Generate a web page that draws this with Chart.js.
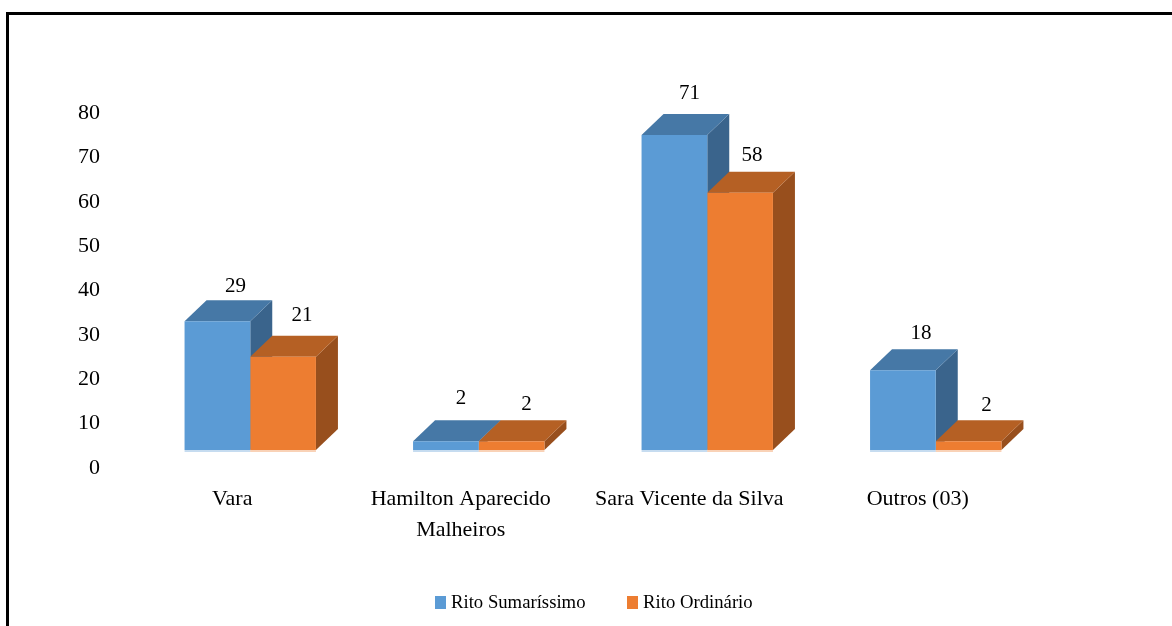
<!DOCTYPE html>
<html>
<head>
<meta charset="utf-8">
<style>
html,body{margin:0;padding:0;background:#fff;overflow:hidden}
#wrap{position:relative;width:1172px;height:626px}
#frame{position:absolute;left:6px;top:12px;right:0;bottom:0;border-left:3px solid #000;border-top:3px solid #000}
canvas{position:absolute;left:0;top:0}
</style>
<script src="https://cdn.jsdelivr.net/npm/chart.js@4/dist/chart.umd.js"></script>
</head>
<body>
<div id="wrap"><div id="frame"></div><canvas id="c" width="1172" height="626"></canvas></div>
<script>
const categories = [["Vara"], ["Hamilton Aparecido", "Malheiros"], ["Sara Vicente da Silva"], ["Outros (03)"]];
const ritoSumarissimo = [29, 2, 71, 18];
const ritoOrdinario = [21, 2, 58, 2];
const yTicks = [0, 10, 20, 30, 40, 50, 60, 70, 80];

const FONT = '"Liberation Serif", "Times New Roman", serif';
const BLUE = '#5B9BD5', ORANGE = '#ED7D31';
const DEPTH_X = 22, DEPTH_Y = 21;
const LEGEND_PAD = 46;
const shades = [
  { top: '#4678A6', side: '#3A648C', floor: 'rgba(91,155,213,0.35)' },
  { top: '#B56024', side: '#984F1D', floor: 'rgba(237,125,49,0.35)' }
];
// fine placement of the value labels relative to each bar [dx, dy]
const labelNudge = [
  [[18, -35], [15, -43], [15, -41], [18, -37]],
  [[19, -41], [15, -37], [12, -37], [18, -36]]
];

function swatch(color) {
  const s = document.createElement('canvas');
  s.width = 11; s.height = 13;
  const g = s.getContext('2d');
  g.fillStyle = color;
  g.fillRect(0, 0, 11, 13);
  return s;
}
const swatches = [swatch(BLUE), swatch(ORANGE)];

const bar3d = {
  id: 'bar3d',
  afterLayout(chart) {
    const lg = chart.legend;
    const h = lg.height;
    lg.left = 20;
    lg.right = 1172;
    lg.top = 603 - LEGEND_PAD - 9.5;
    lg.bottom = lg.top + h;
  },
  beforeDatasetsDraw(chart) {
    const ctx = chart.ctx;
    chart.data.datasets.forEach((ds, i) => {
      chart.getDatasetMeta(i).data.forEach(bar => {
        const l = bar.x - bar.width / 2, r = bar.x + bar.width / 2, t = bar.y, b = bar.base;
        ctx.fillStyle = shades[i].floor;
        ctx.fillRect(l, b, r - l, 2);
        ctx.fillStyle = shades[i].side;
        ctx.beginPath();
        ctx.moveTo(r, t); ctx.lineTo(r + DEPTH_X, t - DEPTH_Y);
        ctx.lineTo(r + DEPTH_X, b - DEPTH_Y); ctx.lineTo(r, b);
        ctx.closePath(); ctx.fill();
        ctx.fillStyle = shades[i].top;
        ctx.beginPath();
        ctx.moveTo(l, t); ctx.lineTo(l + DEPTH_X, t - DEPTH_Y);
        ctx.lineTo(r + DEPTH_X, t - DEPTH_Y); ctx.lineTo(r, t);
        ctx.closePath(); ctx.fill();
      });
    });
  },
  afterDatasetsDraw(chart) {
    const ctx = chart.ctx;
    ctx.save();
    ctx.font = '21px ' + FONT;
    ctx.fillStyle = '#000';
    ctx.textAlign = 'center';
    ctx.textBaseline = 'middle';
    chart.data.datasets.forEach((ds, i) => {
      chart.getDatasetMeta(i).data.forEach((bar, j) => {
        const n = labelNudge[i][j];
        ctx.fillText(String(ds.data[j]), bar.x + n[0], bar.y + n[1]);
      });
    });
    ctx.restore();
  }
};

new Chart(document.getElementById('c'), {
  type: 'bar',
  plugins: [bar3d],
  data: {
    labels: categories,
    datasets: [
      { label: 'Rito Sumaríssimo', data: ritoSumarissimo, backgroundColor: BLUE, categoryPercentage: 0.575, barPercentage: 1 },
      { label: 'Rito Ordinário', data: ritoOrdinario, backgroundColor: ORANGE, categoryPercentage: 0.575, barPercentage: 1 }
    ]
  },
  options: {
    responsive: false,
    animation: false,
    layout: { padding: { left: 0, right: 122, top: 95, bottom: 0 } },
    plugins: {
      title: { display: false },
      tooltip: { enabled: false },
      legend: {
        position: 'bottom',
        labels: {
          usePointStyle: true, pointStyleWidth: 2.3, boxHeight: 13, padding: LEGEND_PAD,
          color: '#000', font: { family: FONT, size: 18.7 },
          generateLabels(chart) {
            return Chart.defaults.plugins.legend.labels.generateLabels(chart)
              .map((it, i) => Object.assign(it, { pointStyle: swatches[i] }));
          }
        }
      }
    },
    scales: {
      x: {
        grid: { display: false },
        border: { display: false },
        afterFit(s) { s.height = 626 - 450 - s.chart.legend.height; },
        ticks: {
          color: '#000', padding: 26, labelOffset: -18, autoSkip: false, maxRotation: 0, minRotation: 0,
          font: { family: FONT, size: 22, lineHeight: 1.41 }
        }
      },
      y: {
        min: 0, max: 80,
        afterBuildTicks(s) { s.ticks = yTicks.map(v => ({ value: v })); },
        grid: { display: false },
        border: { display: false },
        afterFit(s) { s.width = 136; },
        ticks: {
          color: '#000', padding: 28, labelOffset: 18,
          font: { family: FONT, size: 22 }
        }
      }
    }
  }
});
</script>
</body>
</html>
